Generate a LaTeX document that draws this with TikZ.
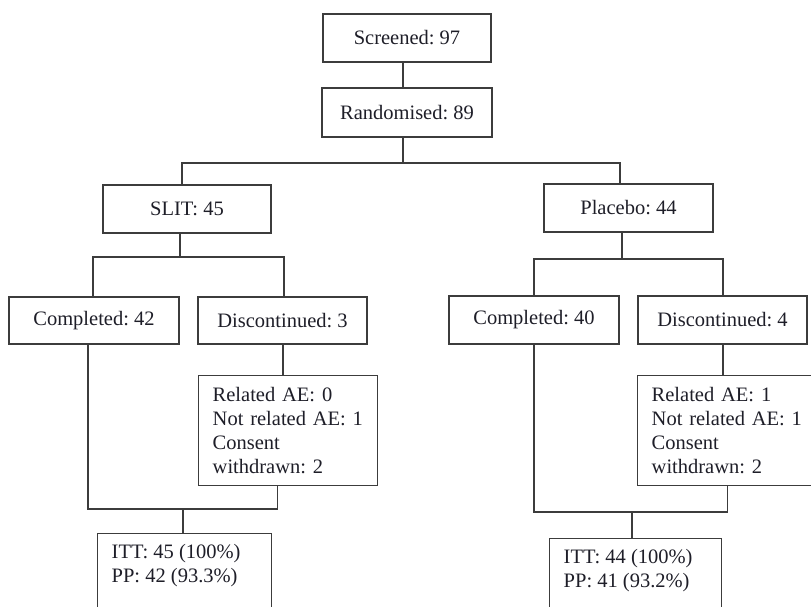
\documentclass[tikz,border=0pt]{standalone}
\usepackage{fontspec}
\setmainfont{Liberation Serif}
\frenchspacing
\definecolor{linegray}{RGB}{60,60,60}
\definecolor{textdark}{RGB}{30,30,40}
\begin{document}
\begin{tikzpicture}[x=1pt,y=-1pt,
  box/.style={draw=linegray, line width=1.4pt, text=textdark, inner sep=0pt,
              font=\fontsize{20.5}{24}\selectfont},
  listbox/.style={box, anchor=north west, align=left, inner xsep=14pt, inner ysep=0pt},
  resbox/.style={box, anchor=north west, inner xsep=14pt, inner ysep=11pt},
  link/.style={draw=linegray, line width=1.4pt}]
\useasboundingbox (0,0) rectangle (811,607);
\clip (0,0) rectangle (811,607);

% enrolment
\node[box, minimum width=168pt, minimum height=48pt] (scr)  at (407,38)    {Screened: 97};
\node[box, minimum width=170pt, minimum height=49pt] (rand) at (407,112.5) {Randomised: 89};

% treatment arms
\node[box, minimum width=168pt, minimum height=48pt] (slit) at (187,209)   {SLIT: 45};
\node[box, minimum width=169pt, minimum height=48pt] (plac) at (628.5,208) {Placebo: 44};

% follow-up
\node[box, minimum width=170pt, minimum height=47pt] (comp1) at (94,320.5)    {Completed: 42};
\node[box, minimum width=169pt, minimum height=47pt] (disc1) at (282.5,320.5) {Discontinued: 3};
\node[box, minimum width=170pt, minimum height=48pt] (comp2) at (534,320)     {Completed: 40};
\node[box, minimum width=169pt, minimum height=48pt] (disc2) at (722.5,320)   {Discontinued: 4};

% reasons for discontinuation
\node[listbox, text width=151pt, minimum height=110pt] (rel1) at (198,375)
  {Related AE: 0\\Not related AE: 1\\Consent\\withdrawn: 2};
\node[listbox, text width=151pt, minimum height=110pt] (rel2) at (637,375)
  {Related AE: 1\\Not related AE: 1\\Consent\\withdrawn: 2};

% analysis populations
\node[resbox] (itt1) at (97,533)
  {\parbox[t][90pt][t]{146pt}{ITT: 45 (100\%)\\PP: 42 (93.3\%)}};
\node[resbox] (itt2) at (549,538)
  {\parbox[t][90pt][t]{144pt}{ITT: 44 (100\%)\\PP: 41 (93.2\%)}};

% junction points
\coordinate (j0) at (403,163);
\coordinate (j1) at (180,257);
\coordinate (j2) at (622,259);
\coordinate (j3) at (183,509);
\coordinate (j4) at (632,512);
\coordinate (g1) at (283,0);
\coordinate (g2) at (723,0);

% connectors
\draw[link] ([xshift=-4pt]scr.south) -- ([xshift=-4pt]rand.north);
\draw[link] ([xshift=-4pt]rand.south) -- (j0);
\draw[link] ([xshift=-5pt]slit.north) |- (j0) -| ([xshift=-8.5pt]plac.north);

\draw[link] ([xshift=-7pt]slit.south) -- (j1);
\draw[link] ([xshift=-1pt]comp1.north) |- (j1) -| ([xshift=1.5pt]disc1.north);
\draw[link] ([xshift=-6.5pt]plac.south) -- (j2);
\draw[link] (comp2.north) |- (j2) -| ([xshift=0.5pt]disc2.north);

\draw[link] (g1 |- disc1.south) -- (g1 |- rel1.north);
\draw[link] (g2 |- disc2.south) -- (g2 |- rel2.north);

\draw[link] ([xshift=-6pt]comp1.south) |- (j3) -| ([xshift=-10.5pt]rel1.south);
\draw[link] (j3) -- (j3 |- itt1.north);
\draw[link] (comp2.south) |- (j4) -| ([xshift=0.5pt]rel2.south);
\draw[link] (j4) -- (j4 |- itt2.north);
\end{tikzpicture}
\end{document}
